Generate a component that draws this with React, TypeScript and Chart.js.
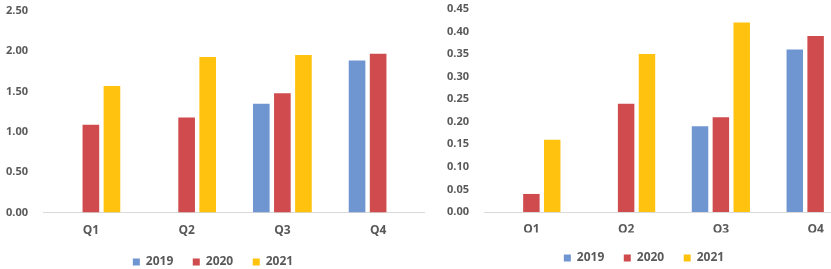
import React, { useEffect, useRef } from "react";
import { Chart, registerables } from "chart.js";

Chart.register(...registerables);

const quarters = ["Q1", "Q2", "Q3", "Q4"];
const seriesNames = ["2019", "2020", "2021"];
const seriesColors = ["#7096D1", "#D04B4D", "#FFC20E"];

// Left chart values
const left2019 = [null, null, 1.35, 1.885];
const left2020 = [1.09, 1.18, 1.48, 1.97];
const left2021 = [1.57, 1.93, 1.955, null];
const leftTicks = { max: 2.5, step: 0.5 };

// Right chart values
const right2019 = [null, null, 0.19, 0.36];
const right2020 = [0.04, 0.24, 0.21, 0.39];
const right2021 = [0.16, 0.35, 0.42, null];
const rightTicks = { max: 0.45, step: 0.05 };

const textColor = "#595959";
const fontFamily = "'Open Sans', 'Noto Sans', sans-serif";

type Cfg = {
  values: (number | null)[][];
  max: number;
  step: number;
  width: number;
  height: number;
  yWidth: number;
  xHeight: number;
  pad: { left: number; right: number; top: number; bottom: number };
  xPad: number;
  legendPad: number;
};

function BarChart({ cfg }: { cfg: Cfg }) {
  const ref = useRef<HTMLCanvasElement | null>(null);
  useEffect(() => {
    if (!ref.current) return;
    const chart = new Chart(ref.current, {
      type: "bar",
      data: {
        labels: quarters,
        datasets: seriesNames.map((name, i) => ({
          label: name,
          data: cfg.values[i],
          backgroundColor: seriesColors[i],
          borderWidth: 0,
          categoryPercentage: 0.66,
          barPercentage: 0.79,
        })),
      },
      options: {
        animation: false,
        responsive: false,
        maintainAspectRatio: false,
        layout: { padding: cfg.pad },
        plugins: {
          tooltip: { enabled: false },
          legend: {
            position: "bottom",
            labels: {
              boxWidth: 7,
              boxHeight: 7,
              padding: cfg.legendPad,
              color: textColor,
              font: { family: fontFamily, size: 12, weight: "bold" },
            },
          },
        },
        scales: {
          x: {
            grid: { display: false, drawTicks: false },
            border: { display: true, color: "#D9D9D9", width: 1 },
            ticks: {
              padding: cfg.xPad,
              color: textColor,
              font: { family: fontFamily, size: 12, weight: "bold" },
            },
            afterFit: (s: any) => {
              s.height = cfg.xHeight;
            },
          },
          y: {
            min: 0,
            max: cfg.max,
            grid: {
              display: false,
              drawTicks: true,
              tickLength: 15,
              tickColor: "rgba(0,0,0,0)",
            },
            border: { display: false },
            ticks: {
              stepSize: cfg.step,
              padding: 0,
              color: textColor,
              font: { family: fontFamily, size: 11, weight: "bold" },
              callback: (v: any) => Number(v).toFixed(2),
            },
            afterFit: (s: any) => {
              s.width = cfg.yWidth;
            },
          },
        },
      },
    });
    return () => chart.destroy();
  }, [cfg]);
  return (
    <canvas
      ref={ref}
      width={cfg.width}
      height={cfg.height}
      style={{ width: cfg.width, height: cfg.height, display: "block" }}
    />
  );
}

const leftCfg: Cfg = {
  values: [left2019, left2020, left2021],
  max: leftTicks.max,
  step: leftTicks.step,
  width: 462,
  height: 278,
  yWidth: 43,
  xHeight: 24,
  pad: { left: 20, right: 16, top: 11, bottom: 0 },
  xPad: 11,
  legendPad: 19.5,
};

const rightCfg: Cfg = {
  values: [right2019, right2020, right2021],
  max: rightTicks.max,
  step: rightTicks.step,
  width: 484,
  height: 274,
  yWidth: 59,
  xHeight: 20.5,
  pad: { left: 0, right: 46, top: 9, bottom: 0 },
  xPad: 10,
  legendPad: 19.5,
};

export default function App() {
  return (
    <div
      style={{
        position: "absolute",
        left: 0,
        top: 0,
        width: 831,
        height: 269,
        overflow: "hidden",
        background: "#FFFFFF",
      }}
    >
      <div
        style={{
          position: "absolute",
          left: 0,
          top: 0,
          width: 425,
          height: 269,
          overflow: "hidden",
        }}
      >
        <div style={{ position: "absolute", left: -20, top: 0 }}>
          <BarChart cfg={leftCfg} />
        </div>
      </div>
      <div
        style={{
          position: "absolute",
          left: 425,
          top: 0,
          width: 406,
          height: 269,
          overflow: "hidden",
        }}
      >
        <div style={{ position: "absolute", left: 0, top: 0 }}>
          <BarChart cfg={rightCfg} />
        </div>
      </div>
    </div>
  );
}
